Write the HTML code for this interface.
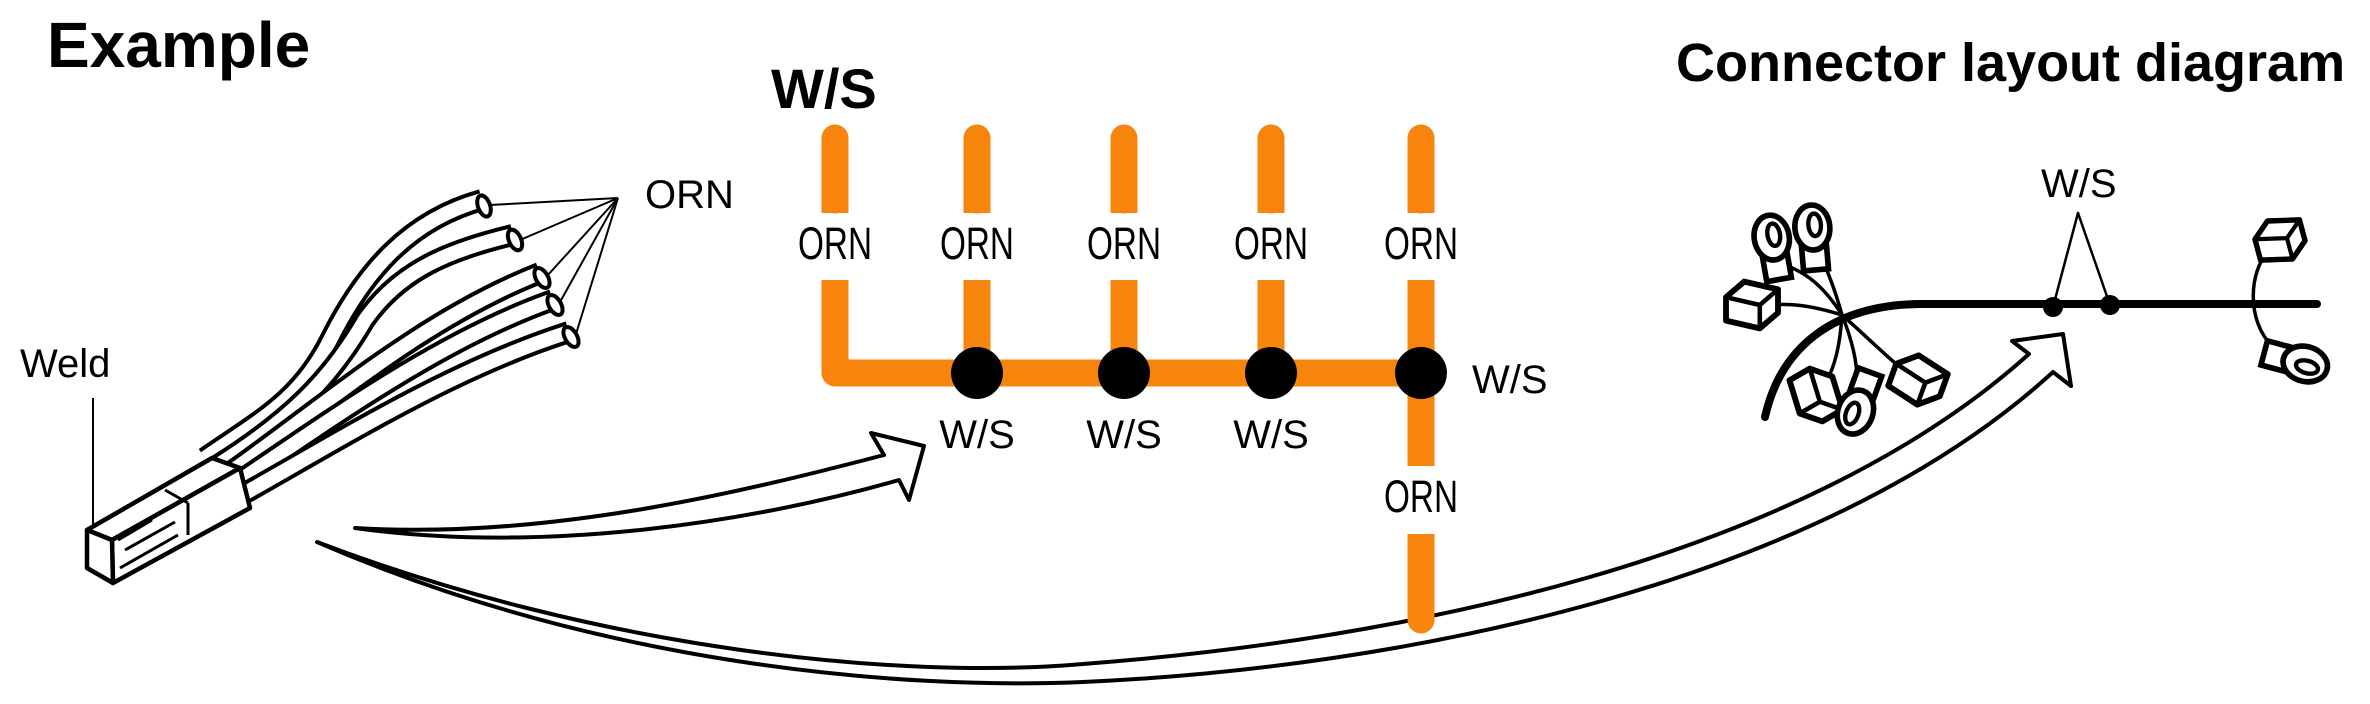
<!DOCTYPE html>
<html><head><meta charset="utf-8"><style>
html,body{margin:0;padding:0;background:#fff;}
svg{display:block;}
text{font-family:"Liberation Sans",sans-serif;}
</style></head><body>
<svg width="2370" height="704" viewBox="0 0 2370 704" xmlns="http://www.w3.org/2000/svg">
<defs>
<g id="cube">
<polygon points="-20,-6 -6,-18 20,-12 20,6 6,18 -20,12" fill="#fff" stroke="#000" stroke-width="4.5" stroke-linejoin="round"/>
<polyline points="-20,-6 6,0 20,-12" fill="none" stroke="#000" stroke-width="3.5"/>
<line x1="6" y1="0" x2="6" y2="18" stroke="#000" stroke-width="3.5"/>
</g>
<g id="ring">
<rect x="-10" y="0" width="20" height="28" fill="#fff" stroke="#000" stroke-width="4.5"/>
<ellipse cx="0" cy="-6" rx="14" ry="18" fill="#fff" stroke="#000" stroke-width="4.5"/>
<ellipse cx="2" cy="-8" rx="5" ry="9" fill="#fff" stroke="#000" stroke-width="3.5"/>
</g>
<path id="w1" d="M205,458 C260,420 300,400 330,340 C365,270 410,220 482,200"/>
<path id="w2" d="M215,467 C290,420 330,380 365,320 C400,270 450,250 513,235"/>
<path id="w3" d="M225,476 C320,410 420,320 540,273"/>
<path id="w4" d="M232,486 C330,420 440,340 553,300"/>
<path id="w5" d="M240,496 C340,440 450,370 569,332"/>
</defs>

<text x="47" y="67" font-size="64" font-weight="bold">Example</text>
<text x="771" y="108" font-size="56" font-weight="bold">W/S</text>
<text x="1676" y="81" font-size="54" font-weight="bold">Connector layout diagram</text>

<text x="20" y="377" font-size="40">Weld</text>
<line x1="93" y1="398" x2="93" y2="532" stroke="#000" stroke-width="2"/>

<g fill="none">
<use href="#w1" stroke="#000" stroke-width="22"/><use href="#w1" stroke="#fff" stroke-width="14"/>
<use href="#w2" stroke="#000" stroke-width="22"/><use href="#w2" stroke="#fff" stroke-width="14"/>
<use href="#w3" stroke="#000" stroke-width="22"/><use href="#w3" stroke="#fff" stroke-width="14"/>
<use href="#w4" stroke="#000" stroke-width="22"/><use href="#w4" stroke="#fff" stroke-width="14"/>
<use href="#w5" stroke="#000" stroke-width="22"/><use href="#w5" stroke="#fff" stroke-width="14"/>
</g>
<g fill="#fff" stroke="#000" stroke-width="4">
<ellipse cx="484" cy="206" rx="6" ry="11" transform="rotate(-20 484 206)"/>
<ellipse cx="515" cy="240" rx="6" ry="11" transform="rotate(-25 515 240)"/>
<ellipse cx="542" cy="278" rx="6" ry="11" transform="rotate(-30 542 278)"/>
<ellipse cx="555" cy="305" rx="6" ry="11" transform="rotate(-30 555 305)"/>
<ellipse cx="571" cy="337" rx="6" ry="11" transform="rotate(-30 571 337)"/>
</g>
<g fill="#fff" stroke="#000" stroke-width="4.5" stroke-linejoin="round">
<polygon points="87,530 212,458 240,468 112,540"/>
<polygon points="112,540 240,468 250,508 113,583"/>
<polygon points="87,530 112,540 113,583 87,568"/>
</g>
<g stroke="#000" stroke-width="3" fill="none">
<line x1="165" y1="490" x2="188" y2="503"/>
<line x1="188" y1="503" x2="188" y2="535"/>
<line x1="118" y1="540" x2="152" y2="520"/>
<line x1="125" y1="550" x2="175" y2="522"/>
<line x1="120" y1="568" x2="178" y2="535"/>
</g>
<text x="645" y="208" font-size="40">ORN</text>
<g stroke="#000" stroke-width="2">
<line x1="618" y1="198" x2="490" y2="205"/>
<line x1="618" y1="198" x2="520" y2="240"/>
<line x1="618" y1="198" x2="547" y2="276"/>
<line x1="618" y1="198" x2="560" y2="302"/>
<line x1="618" y1="198" x2="576" y2="334"/>
</g>

<g fill="#fff" stroke="#000" stroke-width="4" stroke-linejoin="round">
<path d="M355,528 C550,540 750,490 884,455 L871,433 L924,446 L909,500 L899,480 C760,520 550,555 355,528 Z"/>
<path d="M317,542 C600,650 900,680 1083,664 C1400,640 1800,560 2029,354 L2012,341 L2063,334 L2071,386 L2053,372 C1820,585 1400,668 1083,682 C900,690 600,665 317,542 Z"/>
</g>

<g stroke="#f7850d" fill="none">
<g stroke-width="27" stroke-linecap="round">
<line x1="835" y1="138" x2="835" y2="200"/>
<line x1="977" y1="138" x2="977" y2="200"/>
<line x1="1124" y1="138" x2="1124" y2="200"/>
<line x1="1271" y1="138" x2="1271" y2="200"/>
<line x1="1421" y1="138" x2="1421" y2="200"/>
<line x1="1421" y1="560" x2="1421" y2="620"/>
</g>
<g stroke-width="27">
<line x1="835" y1="200" x2="835" y2="213"/>
<line x1="977" y1="200" x2="977" y2="213"/>
<line x1="1124" y1="200" x2="1124" y2="213"/>
<line x1="1271" y1="200" x2="1271" y2="213"/>
<line x1="1421" y1="200" x2="1421" y2="213"/>
<line x1="1421" y1="534" x2="1421" y2="570"/>
<line x1="977" y1="280" x2="977" y2="373"/>
<line x1="1124" y1="280" x2="1124" y2="373"/>
<line x1="1271" y1="280" x2="1271" y2="373"/>
<line x1="1421" y1="280" x2="1421" y2="466"/>
<path d="M835,280 V373 H1421" stroke-linejoin="round"/>
</g>
</g>
<g fill="#000">
<circle cx="977" cy="373" r="26"/>
<circle cx="1124" cy="373" r="26"/>
<circle cx="1271" cy="373" r="26"/>
<circle cx="1421" cy="373" r="26"/>
</g>
<g font-size="45" text-anchor="middle">
<text x="835" y="259" transform="translate(835 0) scale(0.74 1) translate(-835 0)">ORN</text>
<text x="977" y="259" transform="translate(977 0) scale(0.74 1) translate(-977 0)">ORN</text>
<text x="1124" y="259" transform="translate(1124 0) scale(0.74 1) translate(-1124 0)">ORN</text>
<text x="1271" y="259" transform="translate(1271 0) scale(0.74 1) translate(-1271 0)">ORN</text>
<text x="1421" y="259" transform="translate(1421 0) scale(0.74 1) translate(-1421 0)">ORN</text>
<text x="1421" y="512" transform="translate(1421 0) scale(0.74 1) translate(-1421 0)">ORN</text>
</g>
<g font-size="40" text-anchor="middle">
<text x="977" y="448">W/S</text>
<text x="1124" y="448">W/S</text>
<text x="1271" y="448">W/S</text>
</g>
<text x="1472" y="393" font-size="40">W/S</text>

<g fill="none" stroke="#000" stroke-linecap="round">
<path d="M1765,417 C1780,350 1830,305 1920,304 L2317,304" stroke-width="8"/>
<g stroke-width="3.5">
<path d="M1842,315 C1820,280 1800,270 1778,262"/>
<path d="M1842,315 C1835,290 1828,270 1818,252"/>
<path d="M1842,315 C1810,305 1790,303 1762,305"/>
<path d="M1842,315 C1840,345 1835,370 1822,388"/>
<path d="M1842,315 C1852,340 1858,365 1857,385"/>
<path d="M1842,315 C1865,335 1890,360 1908,374"/>
<path d="M2268,252 C2250,270 2245,320 2273,347"/>
<line x1="2078" y1="213" x2="2053" y2="307" stroke-width="2.5"/>
<line x1="2078" y1="213" x2="2110" y2="305" stroke-width="2.5"/>
</g>
</g>
<circle cx="2053" cy="307" r="10" fill="#000"/>
<circle cx="2110" cy="305" r="10" fill="#000"/>
<text x="2041" y="197" font-size="40">W/S</text>

<use href="#ring" transform="translate(1773 245) rotate(-10) scale(1.25)"/>
<use href="#ring" transform="translate(1813 235) rotate(-5) scale(1.25)"/>
<use href="#cube" transform="translate(1752 305) scale(1.3)"/>
<use href="#cube" transform="translate(1816 395) rotate(60) scale(1.3)"/>
<use href="#ring" transform="translate(1858 405) rotate(200) scale(1.25)"/>
<use href="#cube" transform="translate(1918 380) rotate(20) scale(1.3)"/>
<use href="#cube" transform="translate(2280 240) rotate(-15) scale(1.2)"/>
<use href="#ring" transform="translate(2298 362) rotate(105) scale(1.25)"/>
</svg>
</body></html>
